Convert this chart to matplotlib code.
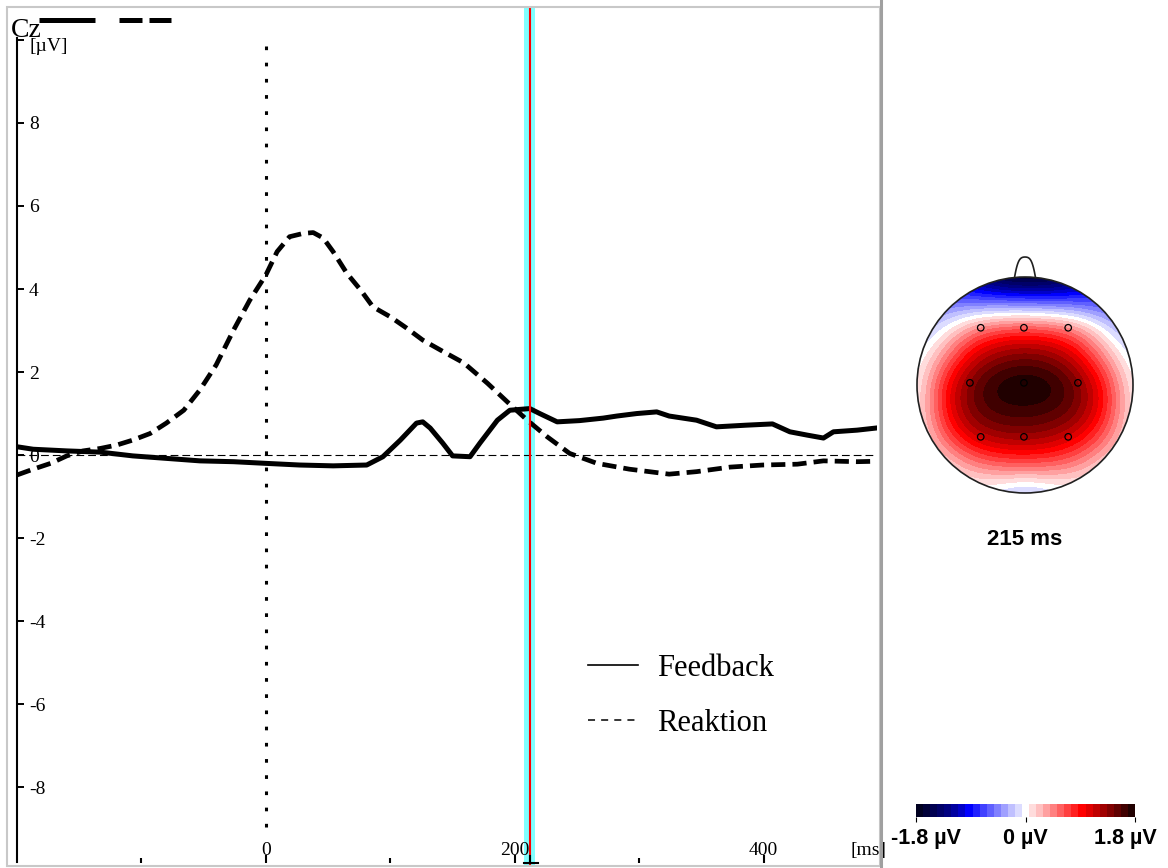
import numpy as np
import matplotlib
matplotlib.use("Agg")
import matplotlib.pyplot as plt
from matplotlib.colors import ListedColormap, BoundaryNorm
from matplotlib.cm import ScalarMappable
from matplotlib.patches import Circle, Rectangle
from matplotlib.lines import Line2D

# ---------------- data ----------------
channel = "Cz"
series_names = ["Feedback", "Reaktion"]

feedback_t = [-200, -187, -160, -133, -107, -80, -53, -26, 0, 27, 54, 81, 94, 108,
              121, 126, 132, 142, 150, 164, 172, 186, 196, 212, 220, 234, 252, 271,
              282, 298, 314, 324, 346, 362, 386, 407, 421, 435, 448, 456, 475, 490]
feedback_v = [0.2, 0.14, 0.1, 0.07, -0.02, -0.08, -0.14, -0.16, -0.2, -0.24, -0.26,
              -0.24, -0.04, 0.36, 0.77, 0.8, 0.65, 0.29, -0.02, -0.04, 0.29, 0.84,
              1.08, 1.12, 1.0, 0.8, 0.83, 0.89, 0.94, 1.0, 1.04, 0.94, 0.84, 0.68,
              0.72, 0.75, 0.56, 0.48, 0.41, 0.56, 0.6, 0.65]

reaktion_t = [-200, -187, -173, -160, -147, -133, -120, -107, -93, -80, -66, -53, -40,
              -26, -13, 0, 9, 19, 30, 38, 46, 54, 65, 76, 86, 100, 113, 126, 142, 159,
              178, 194, 210, 226, 244, 266, 292, 324, 346, 373, 399, 427, 448, 475, 490]
reaktion_v = [-0.48, -0.34, -0.2, -0.02, 0.1, 0.16, 0.24, 0.36, 0.52, 0.77, 1.08, 1.57,
              2.17, 3.01, 3.73, 4.34, 4.9, 5.26, 5.34, 5.36, 5.23, 4.9, 4.38, 3.98, 3.57,
              3.33, 3.06, 2.77, 2.5, 2.22, 1.73, 1.28, 0.84, 0.44, 0.04, -0.2, -0.34,
              -0.46, -0.4, -0.29, -0.24, -0.22, -0.14, -0.16, -0.15]

y_ticks = [-8, -6, -4, -2, 0, 2, 4, 6, 8, 10]
y_tick_labels = ["-8", "-6", "-4", "-2", "0", "2", "4", "6", "8", ""]
y_unit = "[µV]"
x_major = [0, 200, 400]
x_major_labels = ["0", "200", "400"]
x_minor = [-100, 100, 300]
x_unit = "[ms]"

cursor_ms = 212
cursor_label = "215 ms"

# topography values (µV) on a 9x9 grid covering the head, rows front -> back
topo_grid = [
    [-0.6, -1.0, -1.4, -1.75, -1.9, -1.8, -1.5, -1.1, -0.8],
    [-0.45, -0.55, -0.5, -0.5, -0.5, -0.55, -0.6, -0.7, -0.65],
    [-0.35, 0.0, 0.5, 0.75, 0.8, 0.75, 0.5, -0.05, -0.45],
    [-0.1, 0.45, 1.1, 1.4, 1.5, 1.4, 1.05, 0.4, -0.15],
    [-0.05, 0.9, 1.5, 1.8, 1.87, 1.8, 1.45, 0.85, -0.05],
    [0.0, 0.9, 1.48, 1.65, 1.67, 1.62, 1.42, 0.85, 0.0],
    [-0.05, 0.6, 1.1, 1.28, 1.32, 1.24, 1.0, 0.55, -0.05],
    [-0.1, 0.05, 0.4, 0.58, 0.62, 0.58, 0.4, 0.05, -0.1],
    [-0.1, -0.1, -0.1, -0.2, -0.4, -0.2, -0.1, -0.1, -0.1],
]
electrode_x = [-0.41, -0.01, 0.40, -0.51, -0.01, 0.49, -0.41, -0.01, 0.40]
electrode_y = [0.53, 0.53, 0.53, 0.02, 0.02, 0.02, -0.48, -0.48, -0.48]

cbar_min, cbar_max = -1.8, 1.8
cbar_ticks = [-1.8, 0.0, 1.8]
cbar_labels = ["-1.8 µV", "0 µV", "1.8 µV"]

blue_steps = ["#000020", "#000038", "#000050", "#000068", "#000080", "#0000a0", "#0000c8",
              "#0000ff", "#2020ff", "#4040ff", "#6060ff", "#8080ff", "#a0a0ff", "#c0c0ff",
              "#dcdcff"]
red_steps = ["#ffdcdc", "#ffc0c0", "#ffa0a0", "#ff8080", "#ff6060", "#ff4040", "#ff2020",
             "#ff0000", "#e00000", "#c00000", "#a00000", "#800000", "#600000", "#400000",
             "#200000"]

# ---------------- figure ----------------
W, H = 1168, 868
fig = plt.figure(figsize=(W / 100, H / 100), dpi=100)
fig.patch.set_facecolor("white")


def fx(px):
    return px / W


def fy(py):
    return 1 - py / H


SERIF = "Liberation Serif"
SANS = "Liberation Sans"

# grey panel frame
fig.add_artist(Rectangle((fx(7), fy(866)), fx(880) - fx(7), fy(7) - fy(866),
                         transform=fig.transFigure, fill=False, ec="#c8c8c8", lw=1.5))
fig.add_artist(Line2D([fx(881), fx(881)], [0, 1], transform=fig.transFigure,
                      color="#a0a0a0", lw=2.2))

# ---------------- ERP axes ----------------
ax = fig.add_axes([fx(17), fy(866), fx(877) - fx(17), fy(8) - fy(866)])
ax.set_xlim(-200, 491)
ax.set_ylim(-9.9, 10.77)
ax.patch.set_alpha(0)
for s in ["top", "right"]:
    ax.spines[s].set_visible(False)
ax.spines["bottom"].set_position(("data", -9.83))
ax.spines["bottom"].set_color("none")
ax.spines["left"].set_linewidth(1.5)
ax.spines["left"].set_bounds(-9.8, 10.05)

ax.set_yticks(y_ticks, y_tick_labels)
ax.tick_params(axis="y", direction="in", length=5, width=1.4, pad=-8.5,
               labelsize=14)
for lab in ax.get_yticklabels():
    lab.set_horizontalalignment("left")
    lab.set_family(SERIF)
ax.text(-200 + 13 / 1.2446, 10.05, y_unit, ha="left", va="top", fontsize=14,
        family=SERIF)

ax.set_xticks(x_major, x_major_labels)
ax.set_xticks(x_minor, minor=True)
ax.tick_params(axis="x", which="major", direction="in", length=6, width=1.5,
               pad=-5.8, labelsize=14)
ax.tick_params(axis="x", which="minor", direction="in", length=3.6, width=1.5)
for lab in ax.get_xticklabels():
    lab.set_verticalalignment("baseline")
    lab.set_family(SERIF)

ax.text(1.0116, 0.0128, x_unit, transform=ax.transAxes, ha="right", va="baseline",
        fontsize=14, family=SERIF, clip_on=False)

# cursor band
ax.axvspan(cursor_ms - 5, cursor_ms + 4.5, color="#80ffff", lw=0, zorder=1)

# zero line and onset line
ax.axhline(0, color="black", lw=0.8, ls=(0, (7, 3.6)), zorder=2)
ax.vlines(0, -8.95, 10.07, colors="black", lw=2.2, linestyles=[(0, (1.2, 4.1))], zorder=2)

# curves
ax.plot(feedback_t, feedback_v, color="black", lw=3.6, zorder=3,
        solid_joinstyle="round")
ax.plot(reaktion_t, reaktion_v, color="black", lw=3.4, ls=(0, (3.0, 1.5)), zorder=3)

# red cursor line + bottom mark
ax.axvline(cursor_ms, color="red", lw=1.5, zorder=4)
ax.plot([cursor_ms - 5, cursor_ms + 7], [-9.83, -9.83], color="black", lw=1.5,
        clip_on=False, zorder=5)
ax.plot([cursor_ms, cursor_ms], [-9.83, -9.65], color="black", lw=1.5,
        clip_on=False, zorder=5)

# legend
handles = [Line2D([], [], color="black", lw=1.2),
           Line2D([], [], color="black", lw=1.1, ls=(0, (4.6, 4.0)))]
ax.legend(handles, series_names, loc="upper left",
          bbox_to_anchor=(fx(588), fy(654)), bbox_transform=fig.transFigure,
          frameon=False, prop={"family": SERIF, "size": 22}, handlelength=1.63,
          handletextpad=0.62, labelspacing=0.85, borderpad=0, borderaxespad=0)

# channel label with line samples
fig.text(fx(11), fy(37), channel, fontsize=20, family=SERIF, ha="left", va="baseline")
fig.add_artist(Line2D([fx(39), fx(95)], [fy(19.5)] * 2, transform=fig.transFigure,
                      color="black", lw=3.6, solid_capstyle="butt"))
fig.add_artist(Line2D([fx(119), fx(171)], [fy(19.5)] * 2, transform=fig.transFigure,
                      color="black", lw=3.6, ls=(0, (4.6, 1.4)), dash_capstyle="butt"))

# ---------------- topography ----------------
cmap = ListedColormap(blue_steps + ["#ffffff"] + red_steps)
levels = np.linspace(cbar_min, cbar_max, cmap.N + 1)
norm = BoundaryNorm(levels, cmap.N)

tax = fig.add_axes([fx(890), fy(520), fx(1160) - fx(890), fy(250) - fy(520)])
lim = 135 / 108
tax.set_xlim(-lim, lim)
tax.set_ylim(-lim, lim)
tax.axis("off")

im = tax.imshow(np.array(topo_grid), cmap=cmap, norm=norm,
                extent=(-1.125, 1.125, -1.125, 1.125), origin="upper",
                interpolation="bicubic", interpolation_stage="data", zorder=1)
im.set_clip_path(Circle((0, 0), 1.0, transform=tax.transData))

tax.add_patch(Circle((0, 0), 1.0, fill=False, ec="#202020", lw=1.2, zorder=3))
nt = np.linspace(-1, 1, 41)
tax.plot(0.097 * nt, 0.995 + 0.19 * (1 - nt ** 4) * (1 - 0.25 * nt ** 2),
         color="#202020", lw=1.2, zorder=3)
tax.scatter(electrode_x, electrode_y, s=22, facecolors="none", edgecolors="black",
            linewidths=0.9, zorder=4)

fig.text(fx(1025), fy(545), cursor_label, ha="center", va="baseline", fontsize=16,
         fontweight="bold", family=SANS)

# colorbar
cax = fig.add_axes([fx(916), fy(817), fx(1135) - fx(916), fy(804) - fy(817)])
cb = fig.colorbar(ScalarMappable(norm=norm, cmap=cmap), cax=cax,
                  orientation="horizontal", ticks=cbar_ticks)
cb.outline.set_visible(False)
cb.minorticks_off()
cax.tick_params(length=3.6, width=0.8, labelbottom=False)
for xpx, lab in zip([926, 1025, 1125], cbar_labels):
    fig.text(fx(xpx), fy(844), lab, ha="center", va="baseline", fontsize=15.5,
             fontweight="bold", family=SANS)

fig.savefig("out.png", dpi=100, facecolor="white")
